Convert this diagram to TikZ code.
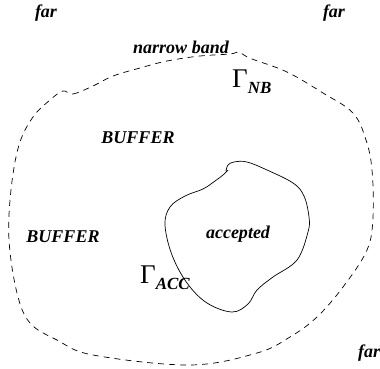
\documentclass[tikz,border=0pt]{standalone}
\usepackage{fontspec}
\setmainfont{Liberation Serif}
\usepackage{tikz}
\newcommand{\subtxt}[1]{\raisebox{-6.5pt}{\fontsize{17}{18}\selectfont\bfseries\itshape #1}}

\begin{document}
\begin{tikzpicture}[x=1pt,y=-1pt,
	region/.style={font=\fontsize{18}{20}\selectfont\bfseries\itshape, inner sep=0pt},
	gam/.style={font=\fontsize{27}{28}\selectfont, inner sep=0pt},
	band/.style={draw, line width=0.7pt, dash pattern=on 6pt off 5pt},
	front/.style={draw, line width=0.7pt}]
	\useasboundingbox (0,0) rectangle (380,369);
	% narrow band boundary
	\draw[band] plot[smooth cycle, tension=0.6] coordinates {
		(63,91) (73,94) (93,86) (113,76) (140,68) (167,61) (200,56) (230,54)
		(238,52) (244,55) (252,59) (287,72) (323,93) (353,113) (366,140)
		(372,170) (373,217) (367,250) (343,287) (317,317) (290,337) (257,353)
		(190,365) (93,355) (57,340) (30,323) (17,293) (9,240) (11,190)
		(19,145) (33,117) (50,100)};
	% accepted front
	\draw[front] plot[smooth, tension=0.6] coordinates {
		(226,171) (228,165) (234,162) (247,162) (267,170) (293,183) (304,196)
		(309,217) (308,232) (297,260) (273,277) (257,290) (248,304) (232,312)
		(207,303) (187,283) (172,255) (165,225) (170,207) (185,196) (203,189)
		(215,181) (223,175) (228,170)};
	\node[region, anchor=base] (farA) at (46,18) {far};
	\node[region, anchor=base] (farB) at (334,18) {far};
	\node[region, anchor=base west] (farC) at (358,357) {far};
	\node[region, anchor=base] (nb) at (181,54) {narrow band};
	\node[region, anchor=base] (bufA) at (138,143) {BUFFER};
	\node[region, anchor=base] (bufB) at (63,242) {BUFFER};
	\node[region, anchor=base] (acc) at (238,238) {accepted};
	\node[gam, anchor=base west] (gNB) at (232,87) {Γ\subtxt{NB}};
	\node[gam, anchor=base west] (gACC) at (140,283) {Γ\subtxt{ACC}};
\end{tikzpicture}
\end{document}
